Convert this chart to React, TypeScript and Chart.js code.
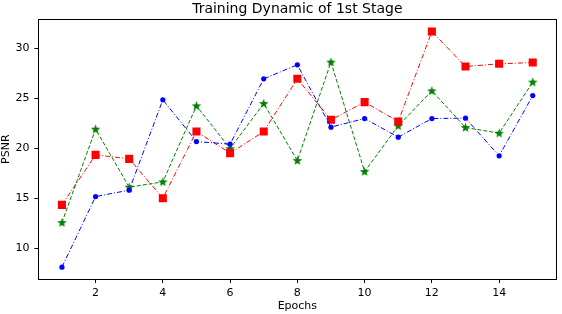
import React, { useEffect, useRef } from "react";
import { Chart, registerables } from "chart.js";

Chart.register(...registerables);

const epochs = [1, 2, 3, 4, 5, 6, 7, 8, 9, 10, 11, 12, 13, 14, 15];
const blueSeries = [8.1, 15.16, 15.8, 24.83, 20.66, 20.4, 26.93, 28.33, 22.1, 22.96, 21.1, 22.96, 23.0, 19.23, 25.26];
const redSeries = [14.33, 19.33, 18.93, 15.0, 21.66, 19.5, 21.66, 26.93, 22.83, 24.6, 22.66, 31.66, 28.16, 28.43, 28.56];
const greenSeries = [12.56, 21.9, 16.1, 16.63, 24.23, 19.96, 24.46, 18.76, 28.6, 17.66, 22.23, 25.73, 22.06, 21.5, 26.6];
const xTickValues = [2, 4, 6, 8, 10, 12, 14];
const yTickValues = [10, 15, 20, 25, 30];

const FONT = "'DejaVu Sans', sans-serif";

function makeStar(color: string): HTMLCanvasElement {
  const c = document.createElement("canvas");
  c.width = 11;
  c.height = 11;
  const ctx = c.getContext("2d")!;
  const cx = 5.5, cy = 5.8, R = 5, r = 2.1;
  ctx.beginPath();
  for (let i = 0; i < 10; i++) {
    const ang = -Math.PI / 2 + (i * Math.PI) / 5;
    const rad = i % 2 === 0 ? R : r;
    const px = cx + rad * Math.cos(ang);
    const py = cy + rad * Math.sin(ang);
    if (i === 0) ctx.moveTo(px, py);
    else ctx.lineTo(px, py);
  }
  ctx.closePath();
  ctx.fillStyle = color;
  ctx.fill();
  return c;
}

const frame = {
  id: "frame",
  afterDatasetsDraw(chart: any) {
    const { ctx, chartArea } = chart;
    ctx.save();
    ctx.strokeStyle = "#000";
    ctx.lineWidth = 1;
    ctx.strokeRect(
      Math.round(chartArea.left) + 0.5,
      Math.round(chartArea.top) + 0.5,
      Math.round(chartArea.right - chartArea.left),
      Math.round(chartArea.bottom - chartArea.top)
    );
    ctx.restore();
  },
};

export default function App() {
  const ref = useRef<HTMLCanvasElement>(null);
  useEffect(() => {
    document.body.style.margin = "0";
    const star = makeStar("#008000");
    const toPts = (arr: number[]) => arr.map((v, i) => ({ x: epochs[i], y: v }));
    const chart = new Chart(ref.current!, {
      type: "line",
      data: {
        datasets: [
          {
            data: toPts(blueSeries),
            borderColor: "#0000ff",
            backgroundColor: "#0000ff",
            borderWidth: 1,
            borderDash: [5, 2, 1, 2],
            pointStyle: "circle",
            pointRadius: 2.6,
            pointBorderWidth: 0,
          },
          {
            data: toPts(redSeries),
            borderColor: "#ff0000",
            backgroundColor: "#ff0000",
            borderWidth: 1,
            borderDash: [5, 2, 1, 2],
            pointStyle: "rect",
            pointRadius: 5.7,
            pointBorderWidth: 0,
          },
          {
            data: toPts(greenSeries),
            borderColor: "#008000",
            backgroundColor: "#008000",
            borderWidth: 1,
            borderDash: [4, 2],
            pointStyle: star as any,
            pointRadius: 5,
            pointBorderWidth: 0,
          },
        ],
      },
      options: {
        animation: false,
        responsive: false,
        events: [],
        layout: { padding: { left: 0, right: 3, top: 0, bottom: 0 } },
        plugins: {
          legend: { display: false },
          tooltip: { enabled: false },
          title: {
            display: true,
            fullSize: false,
            text: "Training Dynamic of 1st Stage",
            color: "#000",
            font: { family: FONT, size: 14, weight: "normal" },
            padding: { top: 0.5, bottom: 2 },
          },
        },
        scales: {
          x: {
            type: "linear",
            min: 0.3,
            max: 15.7,
            afterBuildTicks: (s: any) => {
              s.ticks = xTickValues.map((v) => ({ value: v }));
            },
            afterFit: (s: any) => {
              s.height = 35;
            },
            grid: { display: true, drawOnChartArea: false, drawTicks: true, tickLength: 4, tickColor: "#000", color: "#000" },
            border: { display: true, color: "#000", width: 1 },
            ticks: { color: "#000", font: { family: FONT, size: 11 }, padding: 4, maxRotation: 0, autoSkip: false },
            title: { display: true, text: "Epochs", color: "#000", font: { family: FONT, size: 11 }, padding: { top: 0, bottom: 1 } },
          },
          y: {
            type: "linear",
            min: 6.92,
            max: 32.88,
            afterBuildTicks: (s: any) => {
              s.ticks = yTickValues.map((v) => ({ value: v }));
            },
            afterFit: (s: any) => {
              s.width = 38.4;
            },
            grid: { display: true, drawOnChartArea: false, drawTicks: true, tickLength: 4, tickColor: "#000", color: "#000" },
            border: { display: true, color: "#000", width: 1 },
            ticks: { color: "#000", font: { family: FONT, size: 11 }, padding: 5, autoSkip: false },
            title: { display: true, text: "PSNR", color: "#000", font: { family: FONT, size: 11 }, padding: { top: 0, bottom: 0 } },
          },
        },
      },
      plugins: [frame],
    } as any);
    return () => chart.destroy();
  }, []);
  return (
    <div style={{ width: 562, height: 314 }}>
      <canvas ref={ref} width={562} height={314} style={{ display: "block" }} />
    </div>
  );
}
